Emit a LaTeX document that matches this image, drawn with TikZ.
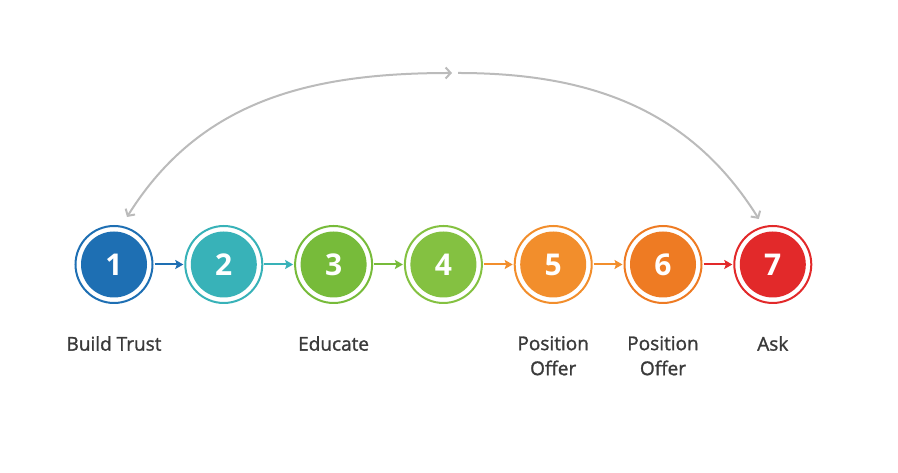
\documentclass[tikz,border=0pt]{standalone}
\usepackage{fontspec}
\setmainfont{Open Sans}
\newfontfamily\labelfont{Open Sans}[FakeBold=1.4]
\usetikzlibrary{arrows.meta, positioning}

\definecolor{cone}{HTML}{1E6FB3}
\definecolor{ctwo}{HTML}{38B2B8}
\definecolor{cthree}{HTML}{77BB3A}
\definecolor{cfour}{HTML}{84C141}
\definecolor{cfive}{HTML}{F28E2C}
\definecolor{csix}{HTML}{EE7B23}
\definecolor{cseven}{HTML}{E2292A}
\definecolor{loopgray}{HTML}{BBBBBB}
\definecolor{labelgray}{HTML}{3A3A3A}

\begin{document}
\begin{tikzpicture}
    [
        x=1pt, y=1pt,
        node distance=30.8pt,
        stepbox/.style ={circle, draw=#1, line width=2pt, fill=white,
                         minimum size=77pt, inner sep=0pt, text=white,
                         font=\fontsize{30}{30}\selectfont\bfseries,
                         path picture={\fill[#1] (path picture bounding box.center)
                                       circle (33pt);}},
        steplabel/.style ={align=center, inner sep=0pt, text=labelgray,
                         font=\labelfont\fontsize{19}{25}\selectfont},
        sarc/.style  ={-{Stealth[length=8pt,width=9pt,inset=1.5pt]}, line width=2pt,
                       shorten <=1pt, shorten >=1pt},
        larc/.style  ={loopgray, line width=2pt}
    ]
    \useasboundingbox (0,0) rectangle (898,473);

    \node[stepbox=cone]    (s1)    at (114,208.5)       {1};
    \node[stepbox=ctwo]    (s2)    [right=of s1]        {2};
    \node[stepbox=cthree]  (s3)    [right=of s2]        {3};
    \node[stepbox=cfour]   (s4)    [right=of s3]        {4};
    \node[stepbox=cfive]   (s5)    [right=of s4]        {5};
    \node[stepbox=csix]    (s6)    [right=of s5]        {6};
    \node[stepbox=cseven]  (s7)    [right=of s6]        {7};

    \node[steplabel]  (l1)  [below=32pt of s1]   {Build Trust};
    \node[steplabel]  (l3)  [below=32pt of s3]   {Educate};
    \node[steplabel]  (l5)  [below=32pt of s5]   {Position\\Offer};
    \node[steplabel]  (l6)  [below=32pt of s6]   {Position\\Offer};
    \node[steplabel]  (l7)  [below=32pt of s7]   {Ask};

    \draw[sarc, cone]     (s1) to (s2);
    \draw[sarc, ctwo]     (s2) to (s3);
    \draw[sarc, cthree]   (s3) to (s4);
    \draw[sarc, cfive]    (s4) to (s5);
    \draw[sarc, cfive]    (s5) to (s6);
    \draw[sarc, cseven]   (s6) to (s7);

    \coordinate (peak)  at (452,400);
    \coordinate (peakr) at (458,400);
    \coordinate (endl)  at ([xshift=13pt,yshift=8pt]s1.north);
    \coordinate (endr)  at ([xshift=-14pt,yshift=6pt]s7.north);

    \draw[larc, {Straight Barb[length=5pt,width=11pt]}-{Straight Barb[length=5pt,width=11pt]}]
        (endl) to[out=58, in=180] (peak);
    \draw[larc, -{Straight Barb[length=5pt,width=11pt]}]
        (peakr) to[out=0, in=122] (endr);

\end{tikzpicture}
\end{document}
